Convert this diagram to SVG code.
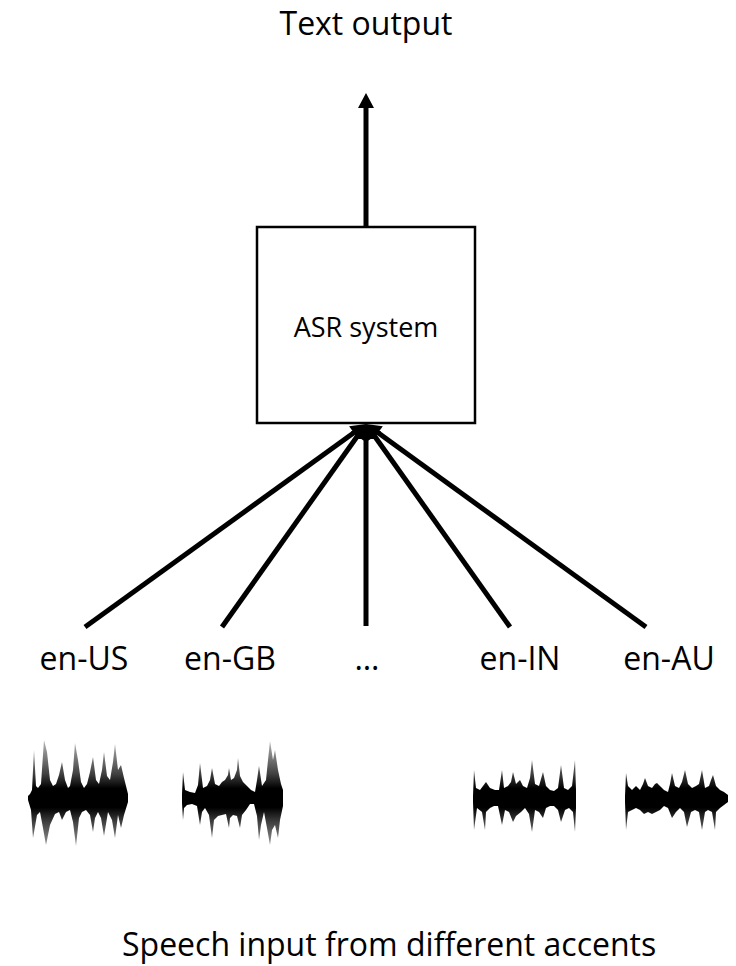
<svg xmlns="http://www.w3.org/2000/svg" width="736" height="966" viewBox="0 0 736 966">
  <style>
    .txt { font-family: "Open Sans", "Liberation Sans", sans-serif; fill: #000; }
    .lbl { font-size: 32px; text-anchor: middle; }
    .box { fill: #fff; stroke: #000; stroke-width: 2.5; }
    .conn { stroke: #000; stroke-width: 5; fill: none; }
    .wave { fill: url(#waveShade); filter: url(#soft); }
  </style>
  <defs>
    <marker id="head" markerUnits="userSpaceOnUse" markerWidth="16" markerHeight="16"
            viewBox="0 0 15 16" refX="0" refY="8" orient="auto">
      <path d="M0,0 L15,8 L0,16 z" fill="#000"/>
    </marker>
    <!-- vertical fade for the waveform envelopes, shared centre line y=798 -->
    <linearGradient id="waveShade" gradientUnits="userSpaceOnUse" x1="0" y1="738" x2="0" y2="858">
      <stop offset="0" stop-color="#000" stop-opacity="0.25"/>
      <stop offset="0.3" stop-color="#000" stop-opacity="0.75"/>
      <stop offset="0.42" stop-color="#000" stop-opacity="1"/>
      <stop offset="0.58" stop-color="#000" stop-opacity="1"/>
      <stop offset="0.7" stop-color="#000" stop-opacity="0.75"/>
      <stop offset="1" stop-color="#000" stop-opacity="0.25"/>
    </linearGradient>
    <filter id="soft" x="-5%" y="-5%" width="110%" height="110%">
      <feGaussianBlur stdDeviation="0.6"/>
    </filter>
  </defs>

  <rect width="736" height="966" fill="#fff"/>

  <g id="text-output">
    <text class="txt lbl" x="366" y="35">Text output</text>
  </g>

  <g id="asr-system">
    <rect class="box" x="257" y="227" width="218" height="196"/>
    <text class="txt" x="366" y="337" font-size="27" text-anchor="middle">ASR system</text>
  </g>

  <g id="connectors">
    <line class="conn" x1="366" y1="227" x2="366" y2="108" marker-end="url(#head)"/>
    <line class="conn" x1="85" y1="627" x2="353.8" y2="432.8" marker-end="url(#head)"/>
    <line class="conn" x1="222" y1="627" x2="357.3" y2="436.2" marker-end="url(#head)"/>
    <line class="conn" x1="366" y1="626" x2="366" y2="439" marker-end="url(#head)"/>
    <line class="conn" x1="510" y1="627" x2="374.7" y2="436.2" marker-end="url(#head)"/>
    <line class="conn" x1="646" y1="627" x2="378.1" y2="432.8" marker-end="url(#head)"/>
  </g>

  <g id="accent-en-US">
    <text class="txt lbl" x="84" y="670">en-US</text>
  </g>
  <g id="accent-en-GB">
    <text class="txt lbl" x="230" y="670">en-GB</text>
  </g>
  <g id="accent-more">
    <text class="txt lbl" x="367" y="670">…</text>
  </g>
  <g id="accent-en-IN">
    <text class="txt lbl" x="520" y="670">en-IN</text>
  </g>
  <g id="accent-en-AU">
    <text class="txt lbl" x="669" y="670">en-AU</text>
  </g>

  <g id="waveforms">
    <path class="wave" d="M28,796 L30,794 L32,790 L34,750 L36,786 L38,788 L41,784 L44,740 L47,752 L50,780 L53,786 L56,784 L59,775 L62,762 L65,780 L68,788 L70,786 L73,770 L75,743 L78,760 L81,782 L84,788 L87,784 L90,772 L93,757 L96,780 L99,784 L102,770 L104,752 L107,776 L110,780 L113,762 L115,744 L118,770 L121,765 L124,778 L128,794 L128,802 L124,815 L121,828 L118,815 L115,838 L112,820 L108,812 L104,836 L101,818 L98,812 L95,818 L93,832 L90,815 L86,810 L82,812 L79,818 L76,846 L73,822 L70,810 L66,812 L62,820 L59,812 L55,814 L50,825 L46,845 L43,828 L40,812 L37,815 L33,838 L31,810 L28,800 Z"/>
    <path class="wave" d="M182,794 L183,772 L185,790 L190,792 L195,793 L198,785 L200,763 L203,788 L207,786 L210,780 L212,768 L215,784 L219,786 L222,782 L225,780 L228,775 L229,768 L231,780 L234,778 L237,770 L238,758 L240,776 L243,782 L247,786 L251,790 L255,792 L257,780 L259,766 L262,786 L266,780 L268,760 L270,741 L273,760 L275,750 L278,770 L281,784 L283,790 L283,806 L280,820 L278,838 L275,825 L272,830 L270,845 L267,828 L264,812 L261,825 L259,840 L257,816 L254,804 L250,804 L246,810 L242,815 L240,828 L237,816 L233,815 L230,818 L229,828 L226,814 L222,815 L218,816 L214,820 L212,838 L209,815 L205,808 L202,812 L200,825 L197,806 L192,804 L187,805 L184,808 L183,820 L182,803 Z"/>
    <path class="wave" d="M473,796 L474,770 L476,788 L480,790 L483,786 L486,782 L490,788 L495,790 L499,790 L502,770 L504,788 L508,786 L511,782 L513,772 L516,784 L520,780 L523,786 L527,788 L530,778 L532,760 L535,784 L539,786 L543,772 L546,786 L550,790 L554,791 L558,788 L561,765 L564,788 L568,790 L572,786 L575,760 L576,790 L576,808 L575,832 L573,812 L569,808 L565,810 L561,822 L558,810 L554,806 L550,806 L546,808 L543,818 L539,812 L535,810 L532,832 L529,814 L525,808 L521,812 L516,816 L513,822 L509,812 L505,810 L502,825 L498,806 L494,806 L490,808 L486,812 L485,830 L482,812 L477,808 L474,830 L473,802 Z"/>
    <path class="wave" d="M625,796 L626,773 L628,786 L632,790 L636,786 L640,790 L643,784 L645,778 L648,786 L652,788 L655,784 L657,783 L660,786 L664,790 L668,792 L670,784 L672,773 L675,786 L679,788 L682,782 L685,770 L688,784 L692,788 L696,786 L699,784 L702,770 L705,788 L709,786 L711,780 L713,775 L716,786 L720,790 L724,792 L728,795 L728,802 L724,805 L720,808 L716,812 L715,830 L712,812 L708,810 L705,812 L702,830 L699,812 L695,810 L691,812 L687,827 L684,812 L680,808 L676,812 L672,818 L668,808 L664,806 L660,810 L656,812 L652,814 L648,812 L644,814 L640,810 L636,808 L632,810 L628,812 L626,830 L625,802 Z"/>
  </g>

  <g id="caption">
    <text class="txt" x="122" y="956" font-size="32">Speech input from different accents</text>
  </g>
</svg>
